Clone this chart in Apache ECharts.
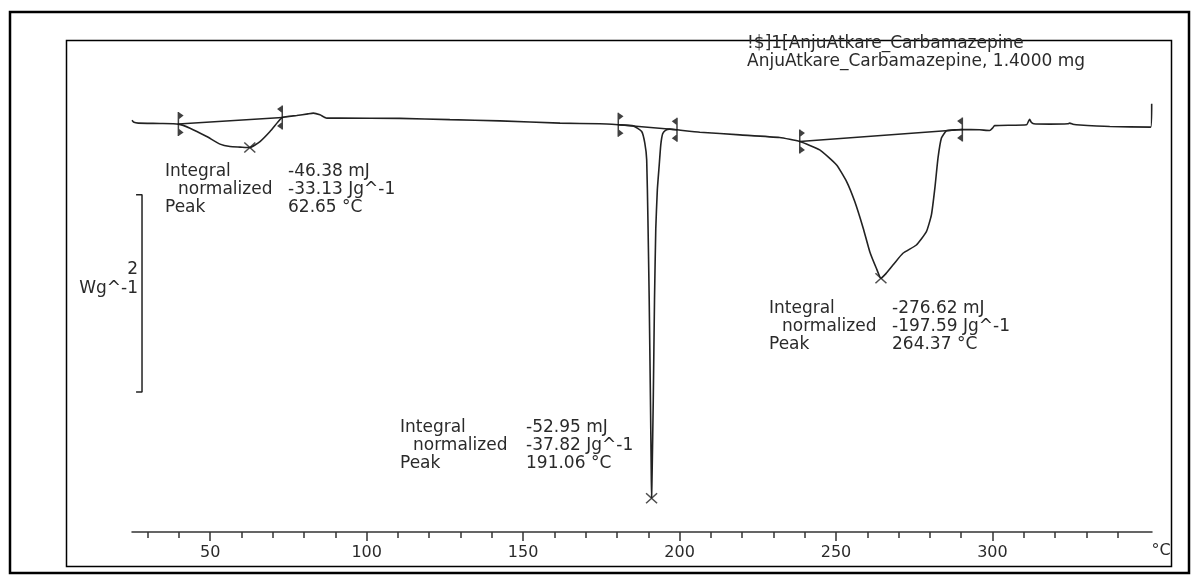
<!DOCTYPE html>
<html>
<head>
<meta charset="utf-8">
<script src="https://cdn.jsdelivr.net/npm/echarts@6/dist/echarts.min.js"></script>
<style>
html,body{margin:0;padding:0;background:#fff;}
#c{width:1194px;height:575px;}
</style>
</head>
<body>
<div id="c"></div>
<script>
// DSC curve: temperature (°C) and heat flow (W/g, endo down, arbitrary offset)
const curveT = [25.0, 25.65, 27.0, 34.0, 39.81, 43.55, 48.88, 53.13, 56.33, 59.52, 62.65, 65.91, 69.11, 71.76, 73.04, 77.64, 81.25, 82.94, 85.08, 87.22, 91.47, 110.6, 126.6, 142.6, 161.8, 174.5, 180.4, 185.2, 187.9, 188.9, 189.5, 189.9, 190.3, 190.7, 190.95, 191.06, 191.25, 191.6, 192.0, 192.4, 192.9, 193.5, 194.0, 194.6, 195.5, 196.9, 199.2, 206.5, 219.3, 232.0, 238.4, 244.8, 250.2, 253.4, 256.0, 258.7, 260.8, 262.9, 264.37, 268.2, 271.4, 275.7, 278.9, 280.5, 281.6, 282.6, 283.7, 285.3, 288.5, 290.4, 295.9, 299.1, 300.1, 300.7, 310.9, 311.6, 311.9, 312.4, 313.2, 318.3, 324.1, 324.7, 325.7, 326.8, 337.5, 350.6, 350.9];
const curveV = [0.017, -0.005, -0.013, -0.017, -0.023, -0.064, -0.149, -0.226, -0.251, -0.256, -0.261, -0.200, -0.098, 0.003, 0.044, 0.064, 0.081, 0.088, 0.071, 0.038, 0.038, 0.035, 0.022, 0.010, -0.013, -0.020, -0.030, -0.041, -0.098, -0.216, -0.386, -1.00, -1.80, -2.82, -3.53, -3.817, -3.53, -2.82, -1.80, -1.09, -0.69, -0.44, -0.234, -0.122, -0.086, -0.074, -0.081, -0.105, -0.132, -0.159, -0.200, -0.284, -0.437, -0.606, -0.809, -1.079, -1.317, -1.485, -1.587, -1.452, -1.333, -1.249, -1.114, -0.944, -0.673, -0.369, -0.165, -0.091, -0.081, -0.078, -0.081, -0.088, -0.061, -0.038, -0.030, 0.010, 0.025, -0.005, -0.020, -0.023, -0.020, -0.013, -0.025, -0.030, -0.048, -0.054, 0.183];

// integration limits
const limitLeftT = [39.81, 180.4, 238.4];
const limitLeftV = [-0.023, -0.030, -0.200];
const limitRightT = [73.04, 199.2, 290.4];
const limitRightV = [0.044, -0.081, -0.078];

// peaks
const peakT = [62.65, 191.06, 264.37];
const peakV = [-0.261, -3.817, -1.587];

// peak evaluation results
const integralMJ = ['-46.38 mJ', '-52.95 mJ', '-276.62 mJ'];
const normalizedJg = ['-33.13 Jg^-1', '-37.82 Jg^-1', '-197.59 Jg^-1'];
const peakLabel = ['62.65 °C', '191.06 °C', '264.37 °C'];

// axis ticks
const majorTicks = [50, 100, 150, 200, 250, 300];
const minorTicks = [30, 40, 60, 70, 80, 90, 110, 120, 130, 140, 160, 170, 180, 190, 210, 220, 230, 240, 260, 270, 280, 290, 310, 320, 330, 340];

// scale bar (2 W/g)
const scaleBarT = [26.3, 28.2, 28.2, 26.3];
const scaleBarV = [-0.74, -0.74, -2.74, -2.74];

const titleLines = ['!$]1[AnjuAtkare_Carbamazepine', 'AnjuAtkare_Carbamazepine, 1.4000 mg'];

const INK = '#222';
const FONT = '"DejaVu Sans", Verdana, sans-serif';

const zip = (a, b) => a.map((v, i) => [v, b[i]]);

const baselineSeries = limitLeftT.map((t, i) => ({
  type: 'line',
  data: [[t, limitLeftV[i]], [limitRightT[i], limitRightV[i]]],
  symbol: 'none', lineStyle: {color: INK, width: 1.5}, silent: true
}));

const annot = [
  {x: 165, xi: 178, xv: 288, y: 172},
  {x: 400, xi: 413, xv: 526, y: 428},
  {x: 769, xi: 782, xv: 892, y: 309}
];
const txt = (x, y, s, align, size) => ({
  type: 'text', x: x, y: y,
  style: {text: s, fill: '#2a2a2a', font: (size || 17) + 'px ' + FONT, textAlign: align || 'left', textVerticalAlign: 'middle'}
});
const graphics = [
  {type: 'rect', shape: {x: 10, y: 12, width: 1179, height: 561}, style: {fill: 'none', stroke: '#000', lineWidth: 2.5}},
  {type: 'rect', shape: {x: 66.5, y: 40.5, width: 1105, height: 526}, style: {fill: 'none', stroke: '#000', lineWidth: 1.5}},
  txt(747, 44, titleLines[0]),
  txt(747, 62, titleLines[1]),
  txt(138, 270, '2', 'right'),
  txt(138, 289, 'Wg^-1', 'right'),
  txt(1161, 551, '°C', 'center', 16)
];
annot.forEach((a, i) => {
  graphics.push(txt(a.x, a.y, 'Integral'));
  graphics.push(txt(a.xi, a.y + 18, 'normalized'));
  graphics.push(txt(a.x, a.y + 36, 'Peak'));
  graphics.push(txt(a.xv, a.y, integralMJ[i]));
  graphics.push(txt(a.xv, a.y + 18, normalizedJg[i]));
  graphics.push(txt(a.xv, a.y + 36, peakLabel[i]));
});

const chart = echarts.init(document.getElementById('c'), null, {renderer: 'canvas'});
const xCommon = {type: 'value', min: 25, max: 351, position: 'bottom', splitLine: {show: false}};
chart.setOption({
  animation: false,
  backgroundColor: '#fff',
  grid: {left: 132, right: 42, top: 40, bottom: 43, containLabel: false},
  xAxis: [
    Object.assign({}, xCommon, {
      axisLine: {show: true, onZero: false, lineStyle: {color: '#333', width: 1.5}},
      axisTick: {show: true, customValues: majorTicks, length: 9, lineStyle: {color: '#333', width: 1.5}},
      axisLabel: {show: true, customValues: majorTicks, margin: 13, color: '#2a2a2a', fontSize: 16, fontFamily: FONT}
    }),
    Object.assign({}, xCommon, {
      axisLine: {show: false, onZero: false},
      axisTick: {show: true, customValues: minorTicks, length: 6, lineStyle: {color: '#333', width: 1.5}},
      axisLabel: {show: false}
    })
  ],
  yAxis: {type: 'value', min: -4.16, max: 0.83, show: false, splitLine: {show: false}},
  series: [
    {type: 'line', data: zip(curveT, curveV), symbol: 'none', smooth: 0.15,
     lineStyle: {color: INK, width: 1.6}, silent: true, clip: false},
    {type: 'line', data: zip(scaleBarT, scaleBarV), symbol: 'none',
     lineStyle: {color: INK, width: 1.5}, silent: true},
    ...baselineSeries,
    {type: 'scatter', data: zip(limitLeftT, limitLeftV), silent: true, z: 5,
     symbol: 'path://M0,0 L1.5,0 L1.5,24 L0,24 Z M1.5,0.5 L6,3.5 L1.5,7 Z M1.5,17 L6,20.5 L1.5,23.5 Z',
     symbolSize: [6, 24], symbolOffset: [2.3, 0], itemStyle: {color: '#111'}},
    {type: 'scatter', data: zip(limitRightT, limitRightV), silent: true, z: 5,
     symbol: 'path://M4.5,0 L6,0 L6,24 L4.5,24 Z M4.5,0.5 L0,3.5 L4.5,7 Z M4.5,17 L0,20.5 L4.5,23.5 Z',
     symbolSize: [6, 24], symbolOffset: [-2.3, 0], itemStyle: {color: '#111'}},
    {type: 'scatter', data: zip(peakT, peakV), silent: true, z: 5,
     symbol: 'path://M0,0 L10,10 M10,0 L0,10',
     symbolSize: [11, 10], itemStyle: {color: 'rgba(0,0,0,0)', borderColor: INK, borderWidth: 1.4}}
  ],
  graphic: graphics
});
</script>
</body>
</html>
